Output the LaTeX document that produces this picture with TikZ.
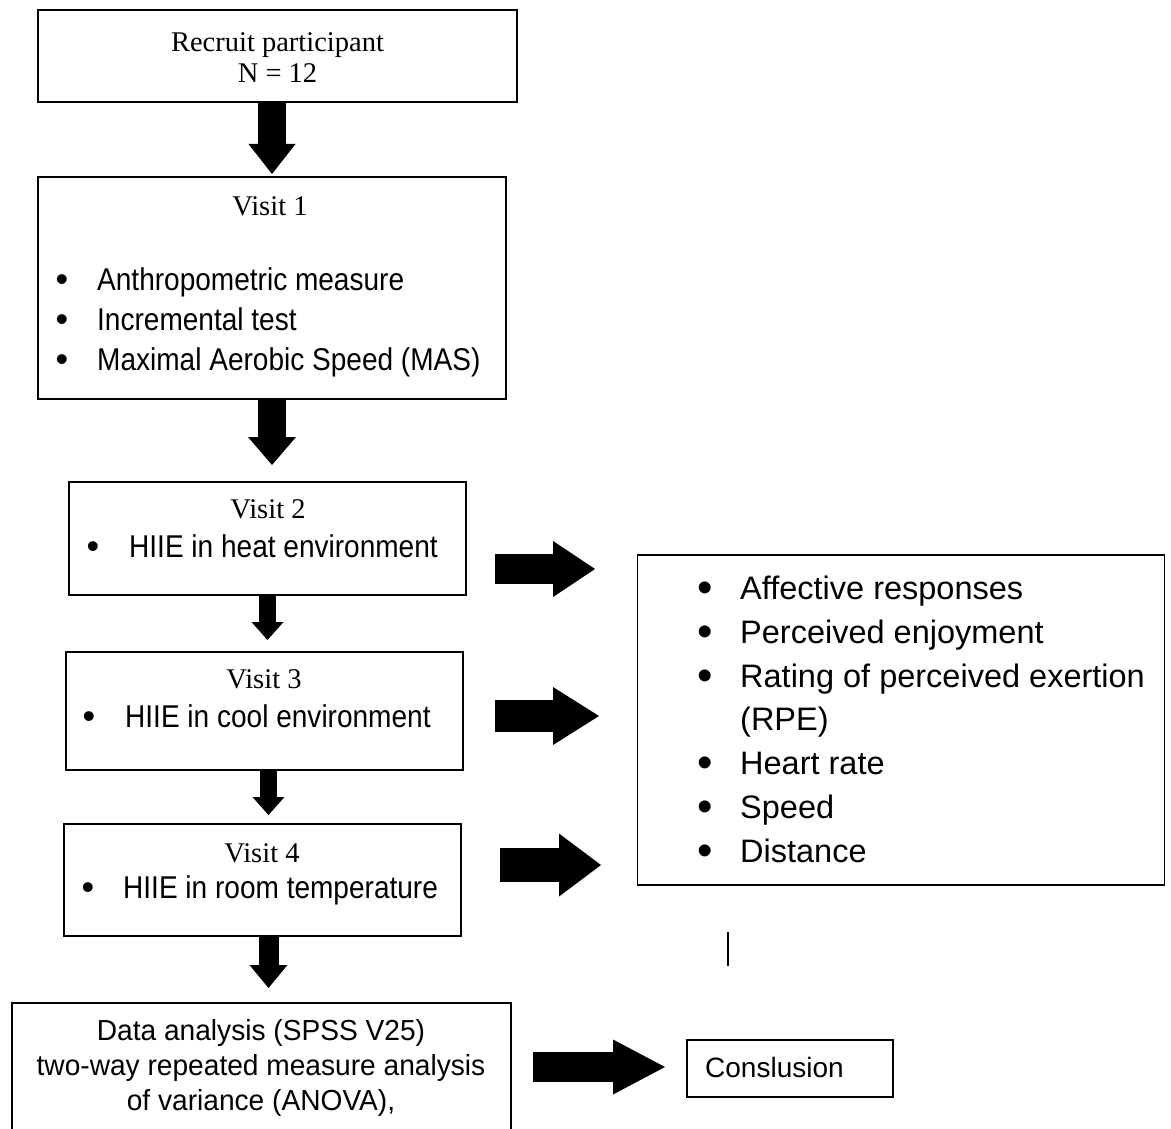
\documentclass[tikz,border=0pt]{standalone}
\usepackage{fontspec}
\setmainfont{Liberation Serif}
\newfontfamily\nsans{Liberation Sans}[FakeStretch=0.89]
\newfontfamily\dsans{Liberation Sans}[FakeStretch=0.97]
\newfontfamily\psans{Liberation Sans}
\usetikzlibrary{arrows.meta}
\begin{document}
\begin{tikzpicture}[x=1pt,y=-1pt,
  box/.style={draw, line width=1.2pt, inner sep=0pt, outer sep=0pt},
  serift/.style={inner sep=0pt, anchor=base, font=\fontsize{28.5}{34}\selectfont},
  item/.style={inner sep=0pt, anchor=base west, font=\fontsize{31.5}{38}\nsans},
  bul/.style={inner sep=0pt, anchor=base, font=\fontsize{36}{40}\psans},
  ritem/.style={inner sep=0pt, anchor=base west, font=\fontsize{32.5}{40}\psans},
  rbul/.style={inner sep=0pt, anchor=base, font=\fontsize{44}{50}\psans},
  dtext/.style={inner sep=0pt, anchor=base, font=\fontsize{29}{35}\dsans},
  ctext/.style={inner sep=0pt, anchor=base west, font=\fontsize{28}{34}\psans},
  blk/.style n args={3}{line width=#1, -{Triangle[width=#2, length=#3, line width=0pt]}}
]
\useasboundingbox (0,0) rectangle (1171,1129);
\clip (0,0) rectangle (1171,1129);

% boxes
\node[box, minimum width=479pt, minimum height=92pt] (b1) at (277.5,56) {};
\node[box, minimum width=468pt, minimum height=222pt] (b2) at (272,288) {};
\node[box, minimum width=397pt, minimum height=113pt] (b3) at (267.5,538.5) {};
\node[box, minimum width=397pt, minimum height=118pt] (b4) at (264.5,711) {};
\node[box, minimum width=397pt, minimum height=112pt] (b5) at (262.5,880) {};
\node[box, minimum width=499pt, minimum height=147pt] (b6) at (261.5,1076.5) {};
\node[box, minimum width=527pt, minimum height=330pt] (rb) at (901,720) {};
\node[box, minimum width=206pt, minimum height=57pt] (cb) at (790,1068.5) {};

% box 1
\node[serift] (t1a) at (277.5,52) {Recruit participant};
\node[serift] (t1b) at (277.5,83) {N = 12};

% box 2
\node[serift] (t2) at (270,215) {Visit 1};
\node[bul] (u21) at (62,291) {\textbullet};
\node[bul] (u22) at (62,331) {\textbullet};
\node[bul] (u23) at (62,371) {\textbullet};
\node[item] (i21) at (97,290) {Anthropometric measure};
\node[item] (i22) at (97,330) {Incremental test};
\node[item] (i23) at (97,370) {Maximal Aerobic Speed (MAS)};

% box 3
\node[serift] (t3) at (268,518) {Visit 2};
\node[bul] (u3) at (93,558) {\textbullet};
\node[item] (i3) at (129,557) {HIIE in heat environment};

% box 4
\node[serift] (t4) at (264,688) {Visit 3};
\node[bul] (u4) at (89,728) {\textbullet};
\node[item] (i4) at (125,727) {HIIE in cool environment};

% box 5
\node[serift] (t5) at (262,862) {Visit 4};
\node[bul] (u5) at (88,899) {\textbullet};
\node[item] (i5) at (123,898) {HIIE in room temperature};

% box 6
\node[dtext] (d1) at (261,1040) {Data analysis (SPSS V25)};
\node[dtext] (d2) at (261,1075) {two-way repeated measure analysis};
\node[dtext] (d3) at (261,1110) {of variance (ANOVA),};

% right box
\node[rbul] (r1b) at (705,602.4) {\textbullet};
\node[rbul] (r2b) at (705,646.2) {\textbullet};
\node[rbul] (r3b) at (705,690) {\textbullet};
\node[rbul] (r5b) at (705,777.6) {\textbullet};
\node[rbul] (r6b) at (705,821.4) {\textbullet};
\node[rbul] (r7b) at (705,865.2) {\textbullet};
\node[ritem] (r1) at (740,599.4) {Affective responses};
\node[ritem] (r2) at (740,643.2) {Perceived enjoyment};
\node[ritem] (r3) at (740,687) {Rating of perceived exertion};
\node[ritem] (r4) at (740,730.8) {(RPE)};
\node[ritem] (r5) at (740,774.6) {Heart rate};
\node[ritem] (r6) at (740,818.4) {Speed};
\node[ritem] (r7) at (740,862.2) {Distance};

% conclusion
\node[ctext] (c1) at (705,1077) {Conslusion};

% vertical arrows
\draw[blk={28pt}{47pt}{30pt}, shorten >=3pt] (b1.south -| b2.north) -- (b2.north);
\draw[blk={28pt}{48pt}{28pt}, shorten >=17pt] (b2.south) -- (b2.south |- b3.north);
\draw[blk={17pt}{32pt}{18pt}, shorten >=12pt] (b3.south) -- (b3.south |- b4.north);
\draw[blk={17pt}{32pt}{18pt}, shorten >=9pt] ([xshift=4pt]b4.south) -- ([xshift=4pt]b4.south |- b5.north);
\draw[blk={20pt}{38pt}{23pt}, shorten >=15pt] ([xshift=6pt]b5.south) -- ([xshift=6pt]b5.south |- b6.north);

% horizontal arrows
\coordinate (y1) at (0,569);
\coordinate (y2) at (0,716);
\coordinate (y3) at (0,865);
\coordinate (y4) at (0,1067);
\draw[blk={30pt}{56pt}{42pt}, shorten <=29pt, shorten >=42.5pt] (b3.east |- y1) -- (rb.west |- y1);
\draw[blk={32pt}{58pt}{46pt}, shorten <=32pt, shorten >=38.5pt] (b4.east |- y2) -- (rb.west |- y2);
\draw[blk={34pt}{63pt}{42pt}, shorten <=39pt, shorten >=36.5pt] (b5.east |- y3) -- (rb.west |- y3);
\draw[blk={30pt}{55pt}{52pt}, shorten <=22pt, shorten >=22pt] (b6.east |- y4) -- (cb.west |- y4);

% stray mark
\coordinate (m1) at (728,932);
\coordinate (m2) at (728,966);
\draw[line width=1.5pt] (m1) -- (m2);
\end{tikzpicture}
\end{document}
